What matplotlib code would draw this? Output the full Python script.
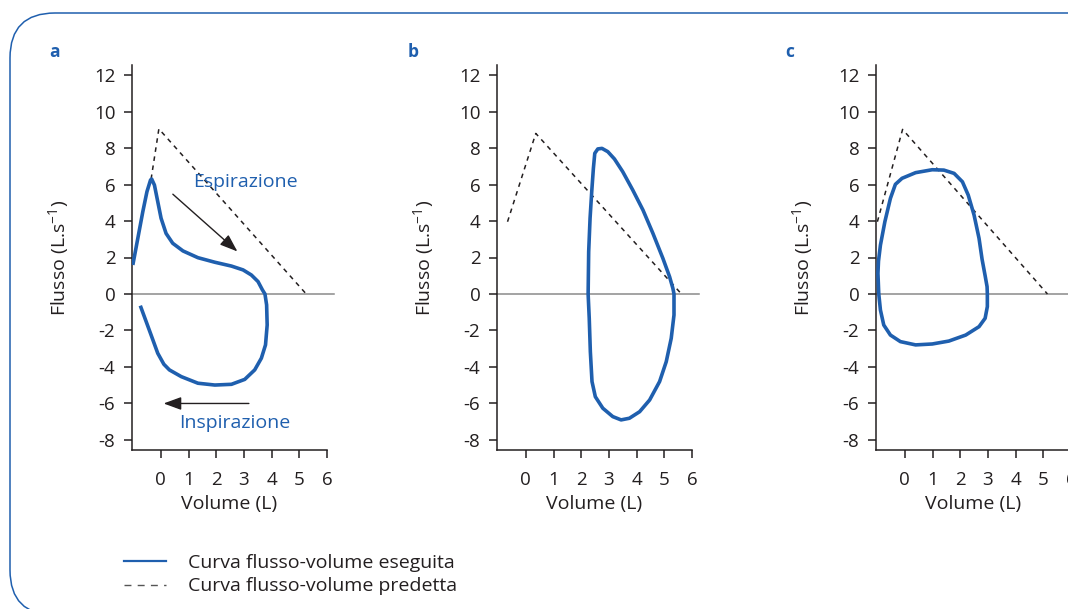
import matplotlib.pyplot as plt
from matplotlib.lines import Line2D
from matplotlib.patches import FancyBboxPatch
from matplotlib.transforms import IdentityTransform

plt.rcParams["font.family"] = ["Open Sans", "DejaVu Sans"]
plt.rcParams["axes.unicode_minus"] = False

BLUE = "#1f5fae"
INK = "#231f20"
GREY = "#8a8a8a"

# panel a - obstruction (expiration then inspiration, one stroke)
vol_a = [-1.01, -0.83, -0.65, -0.5, -0.37, -0.33, -0.23, -0.11, 0.01, 0.19, 0.43,
         0.8, 1.34, 1.95, 2.55, 2.97, 3.27, 3.51, 3.67, 3.76, 3.82, 3.84, 3.78,
         3.63, 3.39, 3.03, 2.55, 1.95, 1.34, 0.74, 0.31, 0.11, -0.11, -0.35, -0.74]
flow_a = [1.59, 3.05, 4.51, 5.61, 6.25, 6.3, 5.97, 5.06, 4.15, 3.32, 2.78,
          2.36, 1.99, 1.74, 1.53, 1.32, 1.04, 0.68, 0.22, 0.0, -0.6, -1.7, -2.79,
          -3.52, -4.16, -4.68, -4.95, -4.99, -4.89, -4.53, -4.16, -3.85, -3.25, -2.25, -0.64]
pred_vol_a = [-0.35, -0.07, 5.25]
pred_flow_a = [6.3, 9.05, 0.0]

# panel b
vol_b = [2.25, 2.27, 2.32, 2.38, 2.44, 2.49, 2.6, 2.75, 2.96, 3.2, 3.5, 3.86,
         4.23, 4.59, 4.95, 5.19, 5.31, 5.35, 5.35, 5.25, 5.07, 4.83, 4.47, 4.11,
         3.74, 3.44, 3.14, 2.78, 2.51, 2.39, 2.33, 2.29, 2.25]
flow_b = [0.0, 2.32, 4.15, 5.61, 6.89, 7.71, 7.95, 7.98, 7.8, 7.4, 6.7, 5.7,
          4.6, 3.32, 1.95, 0.95, 0.31, 0.0, -1.15, -2.43, -3.71, -4.8, -5.81, -6.45,
          -6.81, -6.9, -6.72, -6.26, -5.63, -4.8, -3.16, -1.33, 0.0]
pred_vol_b = [-0.66, 0.36, 5.62]
pred_flow_b = [3.96, 8.8, 0.0]

# panel c
vol_c = [-0.94, -0.97, -0.95, -0.88, -0.72, -0.52, -0.34, -0.1, 0.39, 0.99, 1.41,
         1.78, 2.08, 2.29, 2.5, 2.68, 2.79, 2.9, 2.97, 2.98, 2.98, 2.9, 2.68, 2.2,
         1.59, 0.99, 0.39, -0.16, -0.52, -0.76, -0.88, -0.94]
flow_c = [0.0, 1.13, 1.8, 2.68, 3.96, 5.24, 6.01, 6.34, 6.65, 6.81, 6.79,
          6.61, 6.15, 5.42, 4.33, 3.05, 1.9, 1.0, 0.4, 0.0, -0.69, -1.33, -1.79, -2.25,
          -2.58, -2.74, -2.79, -2.61, -2.25, -1.7, -0.88, 0.0]
pred_vol_c = [-0.99, -0.08, 5.15]
pred_flow_c = [3.96, 9.02, 0.0]

panels = [
    ("a", vol_a, flow_a, pred_vol_a, pred_flow_a),
    ("b", vol_b, flow_b, pred_vol_b, pred_flow_b),
    ("c", vol_c, flow_c, pred_vol_c, pred_flow_c),
]

x_ticks = [0, 1, 2, 3, 4, 5, 6]
y_ticks = [-8, -6, -4, -2, 0, 2, 4, 6, 8, 10, 12]

fig = plt.figure(figsize=(10.68, 6.09), dpi=100)

# rounded frame, open to the right and bottom
frame = FancyBboxPatch((10, -6), 1300, 602, boxstyle="round,pad=0,rounding_size=45",
                       transform=IdentityTransform(), fill=False, edgecolor=BLUE,
                       linewidth=1.1)
fig.patches.append(frame)

lefts = [132, 497, 876]
letter_x = [55, 413, 790]
axes = []
for (letter, vol, flow, pvol, pflow), left, lx in zip(panels, lefts, letter_x):
    ax = fig.add_axes([left / 1068, 159 / 609, 195 / 1068, 385 / 609])
    axes.append(ax)
    ax.axhline(0, xmin=0, xmax=1.035, color=GREY, lw=1.1, clip_on=False, zorder=1)
    ax.plot(pvol, pflow, color=INK, lw=1.1, ls=(0, (3, 3)), zorder=2)
    ax.plot(vol, flow, color=BLUE, lw=2.6, solid_joinstyle="round",
            solid_capstyle="butt", zorder=3)
    ax.set_xlim(-1.04, 6)
    ax.set_ylim(-8.55, 12.55)
    ax.set_xticks(x_ticks)
    ax.set_yticks(y_ticks)
    for s in ["top", "right"]:
        ax.spines[s].set_visible(False)
    for s in ["left", "bottom"]:
        ax.spines[s].set_color(INK)
        ax.spines[s].set_linewidth(1.1)
    ax.tick_params(axis="both", direction="out", length=6, width=1.1, color=INK,
                   labelsize=13.5, labelcolor=INK)
    ax.tick_params(axis="x", pad=9)
    ax.tick_params(axis="y", pad=6)
    ax.set_xlabel("Volume (L)", fontsize=14, color=INK)
    ax.set_ylabel(r"Flusso (L.s$^{\mathregular{-1}}$)", fontsize=14, color=INK)
    ax.xaxis.set_label_coords(0.5, -0.118)
    ax.yaxis.set_label_coords(-0.31, 0.5)
    ax.patch.set_alpha(0)
    fig.text(lx / 1068, 1 - 52 / 609, letter, color=BLUE, fontsize=12.5,
             fontweight="bold", ha="center", va="center")

# annotations on panel a
ax = axes[0]
ax.annotate("", xy=(2.84, 2.23), xytext=(0.36, 5.57),
            arrowprops=dict(arrowstyle="-|>,head_length=0.6,head_width=0.22",
                            color=INK, lw=1.0, mutation_scale=18))
ax.annotate("", xy=(0.0, -6.0), xytext=(3.28, -6.0),
            arrowprops=dict(arrowstyle="-|>,head_length=0.6,head_width=0.22",
                            color=INK, lw=1.0, mutation_scale=18))
ax.text(3.04, 6.14, "Espirazione", color=BLUE, fontsize=14, ha="center", va="center")
ax.text(2.68, -7.07, "Inspirazione", color=BLUE, fontsize=14, ha="center", va="center")

handles = [
    Line2D([], [], color=BLUE, lw=1.6),
    Line2D([], [], color="#555555", lw=1.0, ls=(0, (5, 4.5))),
]
fig.legend(handles, ["Curva flusso-volume eseguita", "Curva flusso-volume predetta"],
           loc="upper left", bbox_to_anchor=(106 / 1068, 1 - 536 / 609),
           frameon=False, fontsize=14, handlelength=2.2, handletextpad=1.1,
           labelspacing=0.3, labelcolor=INK)

fig.savefig("out.png", dpi=100)
